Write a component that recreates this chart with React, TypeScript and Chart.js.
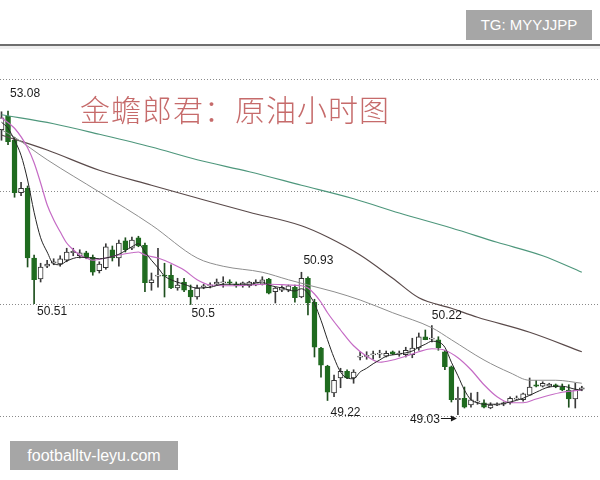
import React, { useEffect, useRef } from "react";
import { Chart, registerables } from "chart.js";

Chart.register(...registerables);

// ---- Hourly crude-oil candles ----
const opens = [
  52.83, 53.01, 52.69, 51.99, 52.05, 51.12, 50.84, 51.01, 51.05, 51.04,
  51.09, 51.19, 51.15, 51.19, 51.13, 50.95, 50.99, 51.23, 51.12, 51.35,
  51.25, 51.39, 51.29, 50.79, 50.88, 50.89, 50.89, 50.72, 50.8, 50.69,
  50.6, 50.73, 50.75, 50.77, 50.79, 50.8, 50.77, 50.75, 50.75, 50.76,
  50.77, 50.84, 50.67, 50.69, 50.69, 50.73, 50.6, 50.85, 50.53, 49.92,
  49.68, 49.32, 49.52, 49.61, 49.52, 49.8, 49.81, 49.83, 49.84, 49.81,
  49.87, 49.84, 49.83, 49.83, 49.92, 50.07, 50.04, 50.03, 49.87, 49.67,
  49.23, 49.25, 49.16, 49.2, 49.19, 49.12, 49.16, 49.17, 49.19, 49.24,
  49.23, 49.29, 49.43, 49.41, 49.41, 49.43, 49.4, 49.36, 49.24, 49.37,
];
const highs = [
  53.07, 53.08, 52.73, 52.13, 52.08, 51.16, 51.05, 51.09, 51.11, 51.15,
  51.25, 51.25, 51.23, 51.21, 51.16, 51.07, 51.31, 51.28, 51.36, 51.39,
  51.4, 51.41, 51.32, 50.92, 51.25, 51.05, 51.03, 50.85, 50.85, 50.76,
  50.76, 50.77, 50.79, 50.84, 50.87, 50.83, 50.8, 50.8, 50.81, 50.83,
  50.87, 50.85, 50.73, 50.75, 50.76, 50.76, 50.93, 50.87, 50.57, 49.93,
  49.69, 49.56, 49.65, 49.63, 49.63, 49.87, 49.87, 49.88, 49.89, 49.88,
  49.88, 49.88, 49.93, 50.05, 50.12, 50.16, 50.22, 50.07, 49.89, 49.68,
  49.4, 49.4, 49.32, 49.33, 49.23, 49.19, 49.19, 49.2, 49.27, 49.28,
  49.32, 49.52, 49.49, 49.47, 49.45, 49.44, 49.44, 49.43, 49.45, 49.41,
];
const lows = [
  52.69, 52.63, 51.93, 51.95, 51.0, 50.51, 50.8, 50.99, 51.03, 51.01,
  51.07, 51.15, 51.12, 51.11, 50.89, 50.92, 50.97, 51.08, 51.01, 51.2,
  51.23, 51.27, 50.67, 50.69, 50.73, 50.6, 50.71, 50.69, 50.67, 50.5,
  50.57, 50.71, 50.72, 50.76, 50.73, 50.77, 50.73, 50.73, 50.73, 50.75,
  50.76, 50.64, 50.52, 50.67, 50.67, 50.53, 50.59, 50.36, 49.8, 49.53,
  49.22, 49.27, 49.39, 49.51, 49.45, 49.76, 49.77, 49.77, 49.79, 49.8,
  49.83, 49.81, 49.8, 49.79, 49.89, 50.03, 50.0, 49.89, 49.63, 49.2,
  49.03, 49.12, 49.13, 49.17, 49.12, 49.11, 49.15, 49.15, 49.17, 49.23,
  49.21, 49.29, 49.4, 49.4, 49.4, 49.39, 49.35, 49.13, 49.12, 49.35,
];
const closes = [
  52.99, 52.67, 51.99, 52.05, 51.12, 50.83, 51.0, 51.04, 51.07, 51.11,
  51.2, 51.21, 51.19, 51.13, 50.93, 51.04, 51.27, 51.12, 51.32, 51.23,
  51.36, 51.28, 50.79, 50.83, 50.89, 50.88, 50.72, 50.76, 50.69, 50.6,
  50.72, 50.75, 50.76, 50.8, 50.8, 50.79, 50.75, 50.79, 50.8, 50.8,
  50.83, 50.65, 50.72, 50.73, 50.75, 50.59, 50.85, 50.52, 49.93, 49.69,
  49.33, 49.49, 49.61, 49.52, 49.6, 49.81, 49.82, 49.84, 49.85, 49.85,
  49.84, 49.85, 49.89, 49.92, 50.07, 50.03, 50.05, 49.92, 49.67, 49.23,
  49.25, 49.13, 49.23, 49.21, 49.13, 49.16, 49.17, 49.19, 49.25, 49.25,
  49.31, 49.4, 49.41, 49.45, 49.44, 49.4, 49.36, 49.24, 49.36, 49.39,
];

// ---- Moving-average lines, read as [candle index, price] ----
const ma5 = [
  [0, 52.93], [1, 52.85], [2, 52.69], [3, 52.49], [4, 52.16], [5, 51.73], [6, 51.39], [7, 51.2],
  [8, 51.04], [9, 51.03], [10, 51.08], [12, 51.13], [14, 51.12], [15, 51.11], [16, 51.12],
  [18, 51.17], [20, 51.27], [21, 51.31], [22, 51.2], [23, 51.09], [24, 50.99], [25, 50.88],
  [26, 50.83], [28, 50.77], [30, 50.72], [32, 50.73], [34, 50.77], [36, 50.77], [38, 50.77],
  [40, 50.8], [41, 50.76], [43, 50.72], [45, 50.68], [46, 50.71], [47, 50.65], [48, 50.51],
  [49, 50.29], [50, 50.03], [51, 49.79], [52, 49.6], [53, 49.52], [54, 49.51], [55, 49.6],
  [56, 49.65], [57, 49.71], [58, 49.76], [59, 49.81], [61, 49.84], [63, 49.88], [64, 49.93],
  [65, 49.97], [66, 50.01], [67, 50.0], [68, 49.93], [69, 49.73], [70, 49.55], [71, 49.36],
  [72, 49.23], [73, 49.19], [74, 49.17], [76, 49.17], [78, 49.2], [80, 49.25], [82, 49.33],
  [84, 49.4], [86, 49.41], [88, 49.37], [89, 49.36],
];
const ma10 = [
  [0, 52.99], [2, 52.85], [4, 52.59], [5, 52.39], [6, 52.12], [7, 51.83], [8, 51.63], [9, 51.47],
  [10, 51.32], [11, 51.23], [12, 51.16], [13, 51.12], [14, 51.09], [16, 51.12], [18, 51.16],
  [20, 51.19], [21, 51.2], [22, 51.16], [24, 51.12], [26, 51.05], [28, 50.96], [30, 50.83],
  [32, 50.76], [35, 50.75], [38, 50.76], [41, 50.77], [44, 50.76], [46, 50.75], [47, 50.72],
  [48, 50.64], [49, 50.53], [50, 50.39], [52, 50.16], [54, 49.95], [56, 49.81], [58, 49.73],
  [60, 49.76], [62, 49.81], [64, 49.87], [66, 49.91], [68, 49.89], [70, 49.79], [72, 49.63],
  [74, 49.43], [76, 49.27], [78, 49.19], [80, 49.19], [82, 49.24], [84, 49.29], [86, 49.33],
  [89, 49.36],
];
const ma20 = [
  [0, 52.83], [2, 52.73], [7, 52.43], [15, 52.0], [23, 51.56], [30, 51.12], [34, 51.01],
  [40, 50.93], [44, 50.83], [47, 50.76], [51, 50.67], [55, 50.56], [60, 50.39], [66, 50.19],
  [69, 50.03], [74, 49.76], [78, 49.59], [81, 49.49], [85, 49.49], [89, 49.45],
];
const ma60 = [
  [0, 52.76], [7, 52.56], [15, 52.29], [23, 52.09], [30, 51.92], [38, 51.73], [46, 51.55],
  [50, 51.4], [55, 51.16], [60, 50.85], [64, 50.59], [69, 50.45], [73, 50.33], [81, 50.13],
  [89, 49.87],
];
const ma120 = [
  [0, 53.03], [8, 52.91], [15, 52.77], [23, 52.6], [30, 52.43], [38, 52.27], [46, 52.09],
  [54, 51.91], [61, 51.72], [69, 51.52], [76, 51.33], [83, 51.15], [89, 50.93],
];

// ---- Grid levels and price notes ----
const gridPrices = [49, 50.5, 52, 53.5];
const noteTexts = ["53.08", "50.51", "50.5", "50.93", "50.22", "49.22", "49.03"];
const noteCandles = [1, 5, 29, 46, 66, 50, 70];
const notePrices = [53.08, 50.51, 50.5, 50.93, 50.22, 49.22, 49.03];

const titleText = "金蟾郎君：原油小时图";
const badgeTop = "TG: MYYJJPP";
const badgeBottom = "footballtv-leyu.com";

// placement of the notes (pixel offsets from their candle point)
const notePlacement = [
  { dx: 2, dy: -17, align: "left" },
  { dx: 3, dy: 8, align: "left" },
  { dx: 1, dy: 9, align: "left" },
  { dx: 2, dy: -12, align: "left" },
  { dx: 0, dy: -10, align: "left" },
  { dx: 3, dy: 12, align: "left" },
  { dx: -18, dy: 5, align: "right", arrow: true },
];

const BEAR = "#1f6b1f";
const BULL_EDGE = "#333333";

const notesPlugin = {
  id: "notesPlugin",
  beforeDraw(chart: any) {
    const { ctx, chartArea } = chart;
    ctx.save();
    ctx.fillStyle = "#eeeeee";
    ctx.fillRect(0, chartArea.top + 1, chart.width, 3);
    ctx.restore();
  },
  afterDatasetsDraw(chart: any) {
    const { ctx } = chart;
    const xs = chart.scales.x;
    const ys = chart.scales.y;
    ctx.save();
    ctx.font = '12px "Liberation Sans", Arial, sans-serif';
    ctx.fillStyle = "#1a1a1a";
    ctx.textBaseline = "middle";
    noteTexts.forEach((t, k) => {
      const pl: any = notePlacement[k];
      const cx = xs.getPixelForValue(noteCandles[k]);
      const cy = ys.getPixelForValue(notePrices[k]);
      ctx.textAlign = pl.align;
      ctx.fillText(t, cx + pl.dx, cy + pl.dy);
      if (pl.arrow) {
        const ay = Math.round(cy + 3) + 0.5;
        const x0 = cx + pl.dx + 1;
        const x1 = cx - 1;
        ctx.strokeStyle = "#1a1a1a";
        ctx.lineWidth = 1;
        ctx.beginPath();
        ctx.moveTo(x0, ay);
        ctx.lineTo(x1 - 4, ay);
        ctx.stroke();
        ctx.beginPath();
        ctx.moveTo(x1, ay);
        ctx.lineTo(x1 - 6, ay - 3);
        ctx.lineTo(x1 - 6, ay + 3);
        ctx.closePath();
        ctx.fill();
      }
    });
    ctx.restore();
  },
};

export default function App() {
  const ref = useRef<HTMLCanvasElement>(null);

  useEffect(() => {
    const canvas = ref.current;
    if (!canvas) return;
    const idx = opens.map((_, i) => i);
    const bull = idx.map((i) => closes[i] >= opens[i]);
    const bodies = idx.map((i) => {
      let lo = Math.min(opens[i], closes[i]);
      let hi = Math.max(opens[i], closes[i]);
      if (hi - lo < 0.014) {
        const m = (hi + lo) / 2;
        lo = m - 0.007;
        hi = m + 0.007;
      }
      return { x: i, y: [lo, hi] };
    });
    const wicks = idx.map((i) => ({ x: i, y: [lows[i], highs[i]] }));
    const toPts = (arr: number[][]) => arr.map(([i, p]) => ({ x: i, y: p }));
    const lineDs = (arr: number[][], color: string, width: number) => ({
      type: "line",
      data: toPts(arr),
      borderColor: color,
      borderWidth: width,
      pointRadius: 0,
      fill: false,
      cubicInterpolationMode: "monotone",
    });

    const chart = new Chart(canvas, {
      type: "bar",
      data: {
        datasets: [
          lineDs(ma5, "#262626", 1),
          lineDs(ma10, "#c56bc5", 1.2),
          lineDs(ma20, "#8e8e8e", 1),
          lineDs(ma60, "#5a4a4a", 1.2),
          lineDs(ma120, "#4e977c", 1.2),
          {
            type: "bar",
            data: bodies,
            grouped: false,
            barThickness: 5,
            backgroundColor: bull.map((b) => (b ? "#ffffff" : BEAR)),
            borderColor: bull.map((b) => (b ? BULL_EDGE : BEAR)),
            borderWidth: 1,
            borderSkipped: false,
          },
          {
            type: "bar",
            data: wicks,
            grouped: false,
            barThickness: 1,
            backgroundColor: bull.map((b) => (b ? "#3a3a3a" : "#1d4f1d")),
            borderWidth: 0,
          },
        ] as any,
      },
      options: {
        animation: false,
        responsive: false,
        maintainAspectRatio: false,
        events: [],
        layout: { padding: { top: 45, left: 0, right: 0, bottom: 0 }, autoPadding: false },
        plugins: {
          legend: { display: false },
          tooltip: { enabled: false },
          title: { display: false },
        },
        scales: {
          x: {
            type: "linear",
            position: "top",
            min: -0.23,
            max: 91.79,
            offset: false,
            grid: { display: false, drawTicks: false },
            ticks: { display: false },
            border: { display: true, color: "#6e6e6e", width: 2 },
          },
          y: {
            type: "linear",
            position: "left",
            min: 48.16,
            max: 53.96,
            ticks: { display: false },
            grid: { color: "#8a8a8a", lineWidth: 1, drawTicks: false },
            border: { display: false, dash: [1, 2] },
            afterBuildTicks: (s: any) => {
              s.ticks = gridPrices.map((v) => ({ value: v }));
            },
          },
        },
      } as any,
      plugins: [notesPlugin],
    });
    return () => chart.destroy();
  }, []);

  return (
    <div
      style={{
        position: "absolute",
        left: 0,
        top: 0,
        width: 600,
        height: 480,
        background: "#ffffff",
        overflow: "hidden",
      }}
    >
      <canvas
        ref={ref}
        width={600}
        height={480}
        style={{ position: "absolute", left: 0, top: 0, width: 600, height: 480 }}
      />
      <div
        style={{
          position: "absolute",
          left: 80,
          top: 93,
          fontFamily: '"Noto Sans CJK SC", sans-serif',
          fontSize: 30,
          lineHeight: "30px",
          fontWeight: 300,
          letterSpacing: 1,
          color: "#c66b6b",
          whiteSpace: "nowrap",
        }}
      >
        {titleText}
      </div>
      <div
        style={{
          position: "absolute",
          left: 466,
          top: 10,
          width: 126,
          height: 30,
          background: "#a6a6a6",
          color: "#ffffff",
          fontFamily: '"Liberation Sans", Arial, sans-serif',
          fontSize: 15,
          lineHeight: "30px",
          textAlign: "center",
        }}
      >
        {badgeTop}
      </div>
      <div
        style={{
          position: "absolute",
          left: 10,
          top: 441,
          width: 168,
          height: 29,
          background: "#a6a6a6",
          color: "#ffffff",
          fontFamily: '"Liberation Sans", Arial, sans-serif',
          fontSize: 16,
          lineHeight: "29px",
          textAlign: "center",
        }}
      >
        {badgeBottom}
      </div>
    </div>
  );
}
